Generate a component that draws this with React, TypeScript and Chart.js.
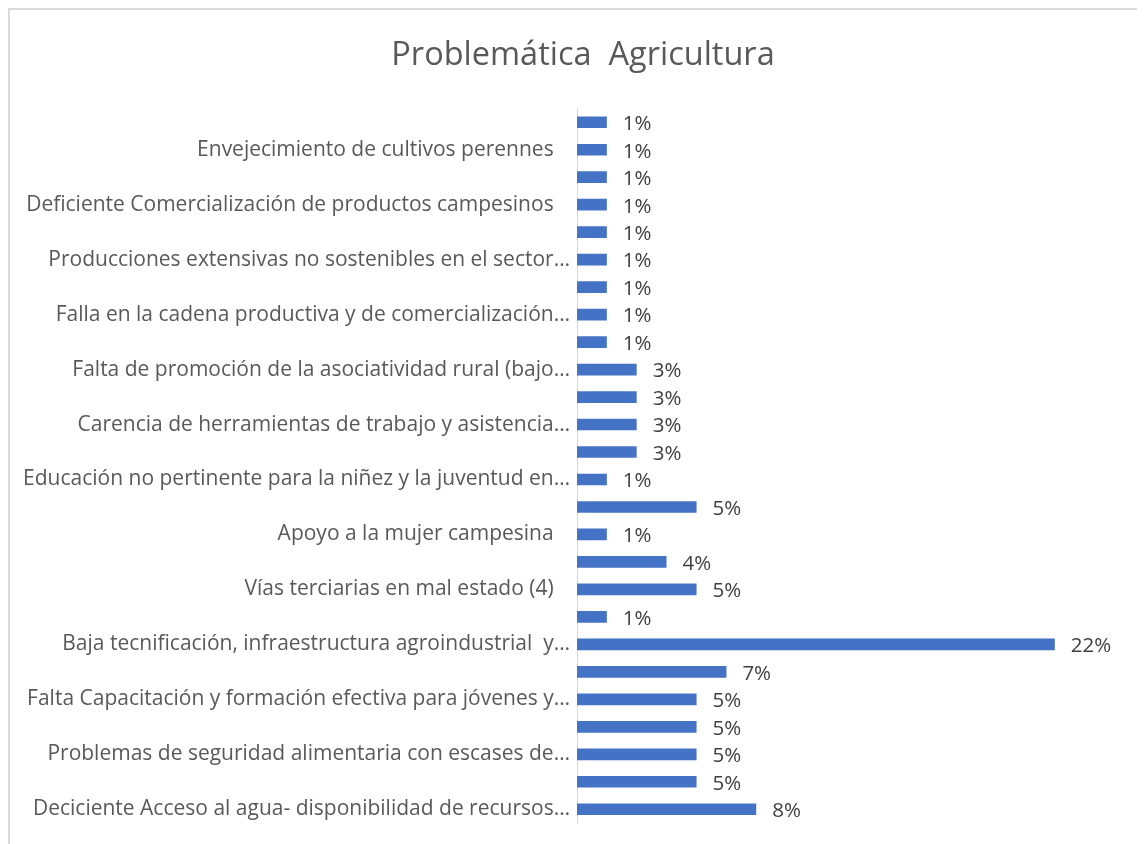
import React, { useEffect, useRef } from "react";
import { Chart, registerables } from "chart.js";

Chart.register(...registerables);

// Categories, top to bottom (only every other label is shown in the reference)
const categories: string[] = [
  "",
  "Envejecimiento de cultivos perennes   ",
  "",
  "Deficiente Comercialización de productos campesinos   ",
  "",
  "Producciones extensivas no sostenibles en el sector…",
  "",
  "Falla en la cadena productiva y de comercialización…",
  "",
  "Falta de promoción de la asociatividad rural (bajo…",
  "",
  "Carencia de herramientas de trabajo y asistencia…",
  "",
  "Educación no pertinente para la niñez y la juventud en…",
  "",
  "Apoyo a la mujer campesina   ",
  "",
  "Vías terciarias en mal estado (4)   ",
  "",
  "Baja tecnificación, infraestructura agroindustrial  y…",
  "",
  "Falta Capacitación y formación efectiva para jóvenes y…",
  "",
  "Problemas de seguridad alimentaria con escases de…",
  "",
  "Deciciente Acceso al agua- disponibilidad de recursos…",
];

// Share of responses (%), top to bottom
const values: number[] = [
  1.35, 1.35, 1.35, 1.35, 1.35, 1.35, 1.35, 1.35, 1.35,
  2.7, 2.7, 2.7, 2.7,
  1.35, 5.41, 1.35, 4.05, 5.41, 1.35, 21.62, 6.76,
  5.41, 5.41, 5.41, 5.41, 8.11,
];

const titleText = "Problemática  Agricultura";
const FONT = "'Open Sans', sans-serif";

const valueLabels = {
  id: "valueLabels",
  afterDatasetsDraw(chart: any) {
    const { ctx } = chart;
    const meta = chart.getDatasetMeta(0);
    ctx.save();
    ctx.font = `20.5px ${FONT}`;
    ctx.fillStyle = "#404040";
    ctx.textAlign = "left";
    ctx.textBaseline = "middle";
    meta.data.forEach((bar: any, i: number) => {
      const v = values[i];
      ctx.fillText(`${Math.round(v)}%`, bar.x + 16, bar.y + 2);
    });
    ctx.restore();
  },
};

export default function App() {
  const ref = useRef<HTMLCanvasElement | null>(null);
  useEffect(() => {
    if (!ref.current) return;
    const chart = new Chart(ref.current, {
      type: "bar",
      data: {
        labels: categories,
        datasets: [
          {
            data: values,
            backgroundColor: "#4472C4",
            borderWidth: 0,
            barPercentage: 0.85,
            categoryPercentage: 0.5,
          },
        ],
      },
      options: {
        indexAxis: "y",
        animation: false,
        responsive: false,
        layout: { padding: { top: 0, right: 0, bottom: 21, left: 0 } },
        plugins: {
          legend: { display: false },
          tooltip: { enabled: false },
          title: {
            display: true,
            text: titleText,
            color: "#595959",
            font: { family: FONT, size: 32.5, weight: "normal" },
            padding: { top: 26, bottom: 33.5 },
          },
        },
        scales: {
          x: {
            display: false,
            min: 0,
            max: 26.2,
          },
          y: {
            grid: { display: false, drawTicks: false },
            border: { display: true, color: "#d9d9d9", width: 1 },
            ticks: {
              autoSkip: false,
              padding: 7,
              color: "#595959",
              font: { family: FONT, size: 21 },
            },
            afterFit: (s: any) => {
              s.width = 567;
            },
          },
        },
      },
      plugins: [valueLabels],
    });
    return () => chart.destroy();
  }, []);
  return (
    <div
      style={{
        width: 1137,
        height: 836,
        borderTop: "2px solid #d9d9d9",
        borderLeft: "2px solid #d9d9d9",
        boxSizing: "border-box",
        overflow: "hidden",
        background: "#fff",
      }}
    >
      <canvas ref={ref} width={1146} height={834} style={{ display: "block" }} />
    </div>
  );
}
